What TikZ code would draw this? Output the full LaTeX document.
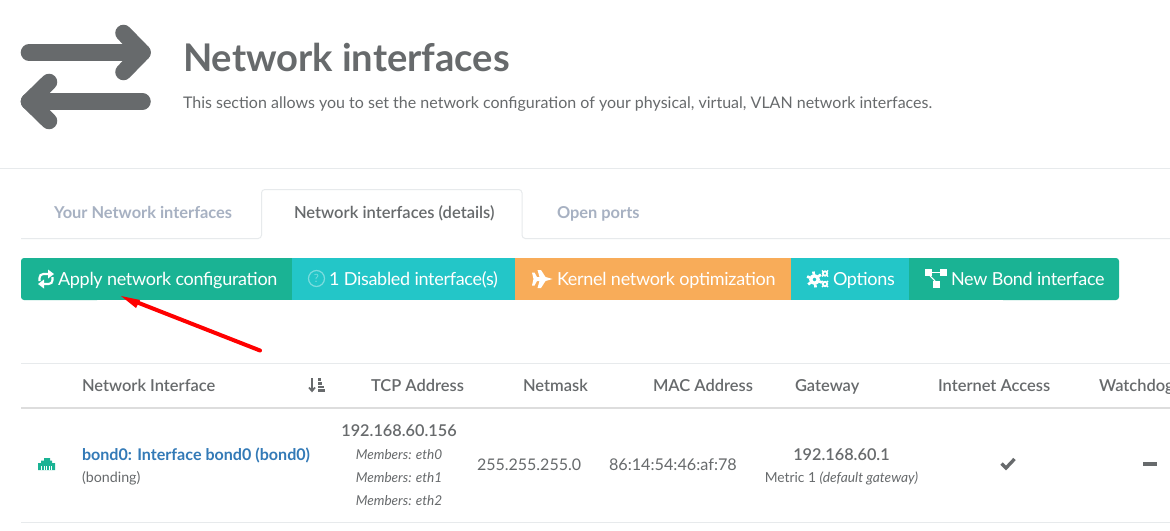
\documentclass[tikz,border=0pt]{standalone}
\usepackage{fontspec}
\setmainfont{Lato}
\newfontfamily\btnfont[LetterSpace=-1.6]{Lato}
\newfontfamily\medfont{Lato Medium}
\newfontfamily\semifont{Lato Semibold}
\definecolor{txtc}{HTML}{676A6C}
\definecolor{navc}{HTML}{A7B1C2}
\definecolor{linec}{HTML}{E7EAEC}
\definecolor{headc}{HTML}{DDDDDD}
\definecolor{grn}{HTML}{1AB394}
\definecolor{teal}{HTML}{23C6C8}
\definecolor{org}{HTML}{F8AC59}
\definecolor{blu}{HTML}{337AB7}
\newcommand{\pxf}[1]{\fontsize{#1}{#1}\selectfont}
\tikzset{
 x=0.75pt,y=-0.75pt,
 lbl/.style={inner sep=0pt,outer sep=0pt,text=txtc,anchor=base west},
 ctr/.style={lbl,anchor=base},
 btn/.style={lbl,text=white,font=\btnfont\pxf{13.5pt}},
 hdr/.style={lbl,font=\semifont\pxf{12.35pt}},
 tab/.style={lbl,font=\bfseries\pxf{12.3pt},text=navc},
 mem/.style={ctr,font=\itshape\pxf{10.2pt}},
 big/.style={line width=12.4pt,line cap=round,line join=round,draw=txtc},
 ico/.style={draw=white,line width=1.6pt},
}
\begin{document}
\begin{tikzpicture}
\useasboundingbox (0,0) rectangle (1170,531);
\clip (0,0) rectangle (1170,531);
\fill[white] (0,0) rectangle (1170,531);
% header icon
\draw[big] (29,52.5) -- (142.5,52.5);
\draw[big] (123.5,33) -- (142.5,52.5) -- (123.5,72);
\draw[big] (29,101.5) -- (142.5,101.5);
\draw[big] (49,82) -- (29,101.5) -- (49,121);
\node[lbl,font=\bfseries\pxf{28.6pt}] (title) at (183,72) {Network interfaces};
\node[lbl,font=\pxf{12pt}] (sub) at (183,108.5) {This section allows you to set the network configuration of your physical, virtual, VLAN network interfaces.};
\draw[linec,line width=0.75pt] (0,168.5) -- (1170,168.5);
% tabs
\draw[linec,line width=0.75pt,rounded corners=2.5pt] (21,238.5) -- (261.5,238.5) -- (261.5,189.5) -- (522,189.5) -- (522,238.5) -- (1170,238.5);
\fill[white] (262,237) rectangle (521.5,240);
\node[tab] (t1) at (54,219) {Your Network interfaces};
\node[lbl,font=\semifont\pxf{12.4pt}] (t2) at (294,219) {Network interfaces (details)};
\node[tab] (t3) at (557,219) {Open ports};
% buttons
\fill[grn,rounded corners=2.25pt] (21,258) rectangle (100,300);
\fill[grn] (25,258) rectangle (292,300);
\fill[teal] (292,258) rectangle (515,300);
\fill[org] (515,258) rectangle (791,300);
\fill[teal] (791,258) rectangle (909,300);
\fill[grn,rounded corners=2.25pt] (1000,258) rectangle (1119,300);
\fill[grn] (909,258) rectangle (1110,300);
\node[btn] (b1) at (58,285) {Apply network configuration};
\node[btn] (b2) at (329,285) {1 Disabled interface(s)};
\node[btn] (b3) at (557,285) {Kernel network optimization};
\node[btn] (b4) at (833,285) {Options};
\node[btn] (b5) at (951,285) {New Bond interface};
% retweet icon
\draw[ico] (39.5,281) -- (39.5,278) .. controls (39.5,275.5) and (41,274) .. (43.5,274) -- (49,274);
\fill[white] (48,269.5) -- (54,274) -- (48,278.5) -- cycle;
\draw[ico] (52.5,277) -- (52.5,280) .. controls (52.5,282.5) and (51,284) .. (48.5,284) -- (43,284);
\fill[white] (44,279.5) -- (38,284) -- (44,288.5) -- cycle;
% question icon
\draw[white,opacity=.4,line width=.9pt] (316.5,278.5) circle[radius=8];
\node[ctr,text=white,opacity=.4,font=\pxf{8.5pt}] (q) at (316.5,282.5) {?};
% jet
\fill[white] (532,272.5) -- (534.5,272.5) -- (537,277) -- (539.5,277) -- (537.5,270) -- (541,270) -- (545.5,277) -- (552.5,279) -- (545.5,281) -- (541,288) -- (537.5,288) -- (539.5,281) -- (537,281) -- (534.5,285.5) -- (532,285.5) -- (533.5,279) -- cycle;
% gears
\draw[white,line width=2.5pt] (814.5,279.5) circle[radius=3.7];
\foreach \a in {0,60,120,180,240,300}{\draw[white,line width=2pt] (814.5,279.5) ++(\a+22:5) -- ++(\a+22:3);}
\draw[white,line width=1.4pt] (825,273.5) circle[radius=2.2];
\draw[white,line width=1.4pt] (825,284) circle[radius=2.2];
\foreach \a in {0,90,180,270}{\draw[white,line width=1pt] (825,273.5) ++(\a+45:2.5) -- ++(\a+45:1.8);\draw[white,line width=1pt] (825,284) ++(\a+45:2.5) -- ++(\a+45:1.8);}
% sitemap
\fill[white] (925,269) rectangle (932,276);
\fill[white] (940,269) rectangle (947,276);
\fill[white] (932.5,281) rectangle (940,287.5);
\draw[white,line width=.8pt] (932,272.5) -- (940,272.5);
\draw[white,line width=.8pt] (930,276) -- (935,281);
% arrow
\coordinate (from) at (260,350.5);
\coordinate (to) at (121,296);
\draw[red,line width=3pt,line cap=round] (from) -- (135,301.5);
\fill[red] (to) -- (140,300) -- (136,308) -- cycle;
% table
\draw[linec,line width=.75pt] (21,363.5) -- (1170,363.5);
\draw[headc,line width=1.5pt] (21,407.5) -- (1170,407.5);
\draw[linec,line width=.75pt] (21,522) -- (1170,522);
\node[hdr] (h1) at (82,391) {Network Interface};
\node[hdr] (h2) at (371,391) {TCP Address};
\node[hdr] (h3) at (523,391) {Netmask};
\node[hdr] (h4) at (653,391) {MAC Address};
\node[hdr] (h5) at (795,391) {Gateway};
\node[hdr] (h6) at (938,391) {Internet Access};
\node[hdr] (h7) at (1099,391) {Watchdog};
% sort icon
\draw[txtc,line width=1.3pt] (312,378) -- (312,391);
\draw[txtc,line width=1.3pt] (309,387.5) -- (312,391) -- (315,387.5);
\fill[txtc] (318,378) rectangle (321,380.5);
\fill[txtc] (318,382) rectangle (322,384.5);
\fill[txtc] (318,386) rectangle (324,388);
\fill[txtc] (318,389) rectangle (325,391.5);
% ethernet icon
\fill[grn] (38,470) -- (38,463) -- (41,463) -- (41,460.5) -- (44,460.5) -- (44,458) -- (50,458) -- (50,460.5) -- (52,460.5) -- (52,463) -- (55,463) -- (55,470) -- cycle;
\foreach \i in {41.5,44,46.5,49,51.5}{\draw[white,line width=.4pt] (\i,466) -- (\i,470);}
\node[lbl,font=\bfseries\pxf{12.07pt},text=blu] (name) at (82,460) {bond0: Interface bond0 (bond0)};
\node[lbl,font=\pxf{10.7pt}] (kind) at (82,482.5) {(bonding)};
\node[ctr,font=\semifont\pxf{12.2pt}] (ip) at (399,436) {192.168.60.156};
\node[mem] (m0) at (399,459) {Members: eth0};
\node[mem] (m1) at (399,482) {Members: eth1};
\node[mem] (m2) at (399,505) {Members: eth2};
\node[lbl,font=\pxf{12pt}] (mask) at (477,470) {255.255.255.0};
\node[lbl,font=\pxf{12.15pt}] (mac) at (609,470) {86:14:54:46:af:78};
\node[ctr,font=\semifont\pxf{12.2pt}] (gw) at (841.5,460) {192.168.60.1};
\node[ctr,font=\pxf{10.35pt}] (met) at (841.5,482.5) {Metric 1 {\itshape (default gateway)}};
\draw[txtc,line width=2.5pt] (1001.5,463.5) -- (1006,468) -- (1014.5,459);
\draw[txtc,line width=2.8pt] (1143,464) -- (1157,464);
\end{tikzpicture}
\end{document}
